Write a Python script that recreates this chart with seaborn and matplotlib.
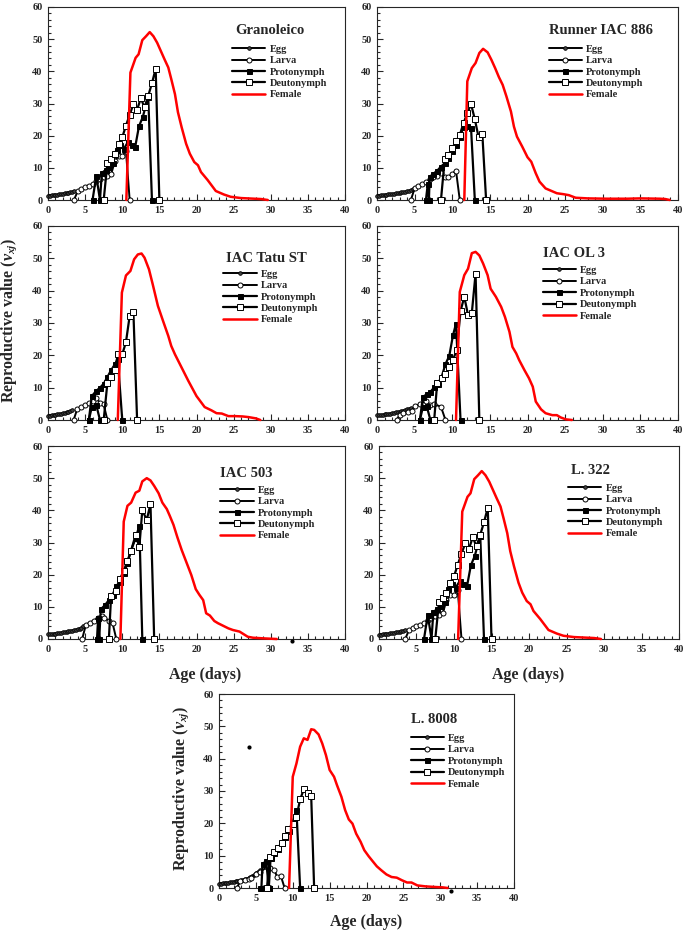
import numpy as np
import pandas as pd
import matplotlib
matplotlib.use('Agg')
import matplotlib.pyplot as plt
from matplotlib.ticker import MultipleLocator
import seaborn as sns

sns.set_style('ticks')
plt.rcParams['font.family'] = ['Liberation Serif', 'DejaVu Serif']
plt.rcParams['font.weight'] = 'bold'
plt.rcParams['mathtext.fontset'] = 'custom'
plt.rcParams['mathtext.rm'] = 'Liberation Serif:bold'
plt.rcParams['mathtext.it'] = 'Liberation Serif:italic:bold'

nan = np.nan

# --- Granoleico (L. 322 shows the same curves) ---
gran_egg_x = [0, 0.25, 0.5, 0.75, 1, 1.25, 1.5, 1.75, 2, 2.25, 2.5, 2.75, 3, 3.25, 3.5]
gran_egg_y = [1.30, 1.37, 1.44, 1.52, 1.60, 1.68, 1.77, 1.86, 1.96, 2.06, 2.17, 2.29, 2.42, 2.56, 2.75]
gran_larva_x = [3.5, 4.0, 4.5, 5.0, 5.5, 6.0, 6.5, 7.0, 7.5, 8.0, 8.5, 9.0, 9.5, 10.0, 10.5, 11.0]
gran_larva_y = [0, 2.8, 3.4, 3.9, 4.4, 5.0, 5.8, 6.5, 7.2, 7.4, 8.0, 12.0, 13.8, 13.7, 15.2, 0]
gran_proto_x = [6.0, 6.5, 7.0, 7.25, 7.75, 8.25, 8.75, 9.25, 9.75, 10.25, 10.75, 11.25, 11.75, 12.25, 12.75, 13.5, 14.0]
gran_proto_y = [0, 7.5, 0, 8.4, 9.3, 10.3, 11.5, 15.5, 17.0, 16.0, 18.0, 17.2, 16.6, 22.9, 25.7, 32.0, 0]
gran_deuto_x = [7.5, 8.0, 8.5, 9.0, 9.5, 10.0, 10.5, 11.0, 11.5, 12.0, 12.5, 13.0, 13.5, 14.0, 14.5, 15.0]
gran_deuto_y = [0, 11.5, 12.7, 14.2, 17.5, 19.5, 23.1, 26.5, 29.8, 28.1, 31.6, 28.8, 32.4, 36.3, 40.8, 0]
gran_female_x = [10.55, 11.1, 11.8, 12.2, 12.7, 13.2, 13.7, 14.2, 14.7, 15.2, 15.7, 16.2, 16.6, 17.1, 17.5,
                 18.0, 18.6, 19.1, 19.7, 20.2, 20.6, 21.5, 22.6, 23.7, 24.6, 26.0, 27.8, 28.7, 29.6]
gran_female_y = [0, 39.6, 44.2, 45.3, 49.7, 50.9, 52.2, 50.9, 48.9, 46.3, 43.7, 41.2, 37.6, 32.9, 27.3,
                 22.6, 17.5, 14.4, 11.8, 10.8, 8.7, 6.2, 2.8, 1.7, 1.0, 0.6, 0.4, 0.3, 0]

# --- Runner IAC 886 ---
run_egg_x = [0, 0.25, 0.5, 0.75, 1, 1.25, 1.5, 1.75, 2, 2.25, 2.5, 2.75, 3, 3.25, 3.5, 3.75, 4, 4.25, 4.5, 4.75]
run_egg_y = [1.30, 1.36, 1.42, 1.49, 1.56, 1.63, 1.71, 1.79, 1.87, 1.96, 2.05, 2.15, 2.25, 2.36, 2.47, 2.59,
             2.72, 2.86, 3.00, 3.30]
run_larva_x = [4.5, 5.0, 5.5, 6.0, 6.5, 7.0, 7.5, 8.0, 8.5, 9.0, 9.5, 10.0, 10.5, 11.0]
run_larva_y = [0, 3.6, 4.4, 5.0, 5.6, 6.4, 7.1, 7.6, 8.4, 7.1, 7.1, 8.2, 9.1, 0]
run_proto_x = [6.5, 6.75, 6.9, 7.0, 7.5, 8.0, 8.5, 9.0, 9.5, 10.0, 10.5, 11.0, 11.5, 12.0, 12.5, 13.0]
run_proto_y = [0, 5.0, 0, 7.2, 8.2, 9.1, 10.4, 11.4, 13.0, 15.1, 17.1, 19.7, 22.6, 23.0, 22.3, 0]
run_deuto_x = [8.5, 9.0, 9.5, 10.0, 10.5, 11.0, 11.5, 12.0, 12.5, 13.0, 13.5, 14.0, 14.5]
run_deuto_y = [0, 12.7, 14.1, 16.1, 18.2, 20.2, 23.9, 27.0, 29.8, 25.1, 19.5, 20.4, 0]
run_female_x = [11.6, 12.0, 12.6, 13.1, 13.6, 14.1, 14.7, 15.2, 15.7, 16.2, 16.7, 17.2, 17.8, 18.2, 18.6,
                19.3, 20.0, 20.5, 21.1, 21.6, 22.4, 23.1, 23.9, 24.8, 25.5, 26.4, 28.0, 30.6, 33.2, 35.0,
                37.6, 38.3, 38.9]
run_female_y = [0, 36.9, 41.0, 42.6, 45.7, 47.0, 45.9, 43.6, 41.0, 38.2, 35.8, 32.2, 27.5, 22.8, 19.7,
                16.6, 13.3, 11.9, 8.3, 5.7, 3.6, 2.9, 2.1, 1.8, 1.5, 0.7, 0.5, 0.4, 0.4, 0.5,
                0.4, 0.3, 0]

# --- IAC Tatu ST ---
tatu_egg_x = [0, 0.25, 0.5, 0.75, 1, 1.25, 1.5, 1.75, 2, 2.25, 2.5, 2.75, 3, 3.25]
tatu_egg_y = [1.30, 1.38, 1.47, 1.56, 1.65, 1.75, 1.86, 1.97, 2.09, 2.22, 2.36, 2.51, 2.70, 2.95]
tatu_larva_x = [3.45, 3.95, 4.5, 4.95, 5.5, 6.0, 6.5, 6.95, 7.5, 8.0]
tatu_larva_y = [0, 3.5, 4.1, 4.6, 5.2, 5.8, 6.9, 5.4, 4.8, 0]
tatu_proto_x = [5.5, 5.9, 6.5, 7.0, nan, 5.5, 5.9, 6.5, 7.0, 7.5, 8.0, 8.5, 9.0, 9.4, 10.0]
tatu_proto_y = [0, 4.0, 4.6, 0, nan, 0, 7.4, 9.0, 10.0, 11.2, 13.3, 15.4, 17.2, 18.8, 0]
tatu_deuto_x = [7.5, 8.0, 8.5, 9.0, 9.4, 10.0, 10.5, 11.0, 11.5, 12.0]
tatu_deuto_y = [0, 11.5, 13.3, 15.4, 20.3, 20.3, 24.1, 32.2, 33.5, 0]
tatu_female_x = [9.4, 9.95, 10.5, 11.1, 11.6, 12.1, 12.6, 13.0, 13.6, 14.1, 14.8, 15.5, 16.2, 16.6, 17.1,
                 18.0, 18.9, 20.0, 21.1, 22.0, 22.7, 23.4, 24.3, 25.2, 26.2, 27.0, 28.0, 28.6]
tatu_female_y = [0, 39.4, 44.7, 46.1, 49.7, 51.2, 51.5, 50.2, 46.6, 42.0, 35.3, 30.6, 26.0, 22.9, 20.3,
                 16.2, 12.1, 7.4, 4.0, 3.0, 2.1, 2.0, 1.2, 1.2, 1.1, 0.9, 0.5, 0]

# --- IAC OL 3 ---
ol3_egg_x = [0, 0.25, 0.5, 0.75, 1, 1.25, 1.5, 1.75, 2, 2.25, 2.5, 2.75, 3, 3.25, 3.5, 3.75, 4, 4.25, 4.5]
ol3_egg_y = [1.40, 1.47, 1.55, 1.63, 1.71, 1.80, 1.90, 2.00, 2.11, 2.22, 2.34, 2.47, 2.61, 2.76, 2.92,
             3.09, 3.27, 3.47, 3.75]
ol3_larva_x = [2.6, 3.0, 3.5, 4.1, 4.6, 5.1, 5.7, 6.5, 7.1, 7.6, 8.5, 9.1]
ol3_larva_y = [0, 1.5, 2.1, 2.5, 2.9, 4.3, 4.9, 5.9, 4.6, 4.9, 4.1, 0]
ol3_proto_x = [5.7, 6.1, 6.6, 7.1, nan, 5.7, 6.1, 6.6, 7.1, 7.6, 8.1, 8.6, 9.1, 9.6, 10.1, 10.5, 11.1]
ol3_proto_y = [0, 4.0, 4.3, 0, nan, 0, 7.2, 7.9, 8.7, 10.1, 11.0, 13.4, 17.3, 19.8, 26.2, 29.8, 0]
ol3_deuto_x = [7.6, 8.0, 8.6, 9.1, 9.6, 10.1, 10.6, 11.1, 11.6, 12.1, 12.6, 13.1, 13.6]
ol3_deuto_y = [0, 11.5, 12.9, 14.1, 16.3, 18.7, 21.6, 33.7, 38.1, 32.4, 33.1, 45.3, 0]
ol3_female_x = [10.5, 11.0, 11.6, 12.1, 12.6, 13.1, 13.6, 14.1, 14.7, 15.1, 15.8, 16.5, 17.0, 17.6, 18.0,
                18.5, 18.9, 19.6, 20.2, 20.7, 21.1, 21.8, 22.4, 23.3, 23.9, 24.4, 25.1, 25.9]
ol3_female_y = [0, 39.6, 44.8, 46.8, 51.6, 52.0, 50.9, 48.4, 44.8, 40.6, 38.1, 35.0, 31.9, 27.3, 22.6,
                20.6, 18.5, 15.4, 12.9, 10.3, 5.7, 3.3, 2.1, 1.5, 1.5, 0.8, 0.2, 0]

# --- IAC 503 ---
iac503_egg_x = [0, 0.25, 0.5, 0.75, 1, 1.25, 1.5, 1.75, 2, 2.25, 2.5, 2.75, 3, 3.25, 3.5, 3.75, 4, 4.25, 4.5, 4.75]
iac503_egg_y = [1.40, 1.47, 1.54, 1.62, 1.70, 1.78, 1.87, 1.96, 2.06, 2.16, 2.27, 2.38, 2.50, 2.63, 2.76,
                2.90, 3.05, 3.25, 3.55, 3.90]
iac503_larva_x = [4.6, 5.1, 5.6, 6.2, 6.7, 7.3, 7.6, 8.2, 8.7, 9.2]
iac503_larva_y = [0, 4.4, 5.1, 5.7, 6.6, 7.3, 6.6, 5.7, 4.9, 0]
iac503_proto_x = [6.6, 6.75, 6.9, 7.1, 7.7, 8.2, 8.7, 9.2, 9.7, 10.2, 10.7, 11.2, 11.8, 12.3, 12.7]
iac503_proto_y = [0, 6.4, 0, 9.2, 10.6, 12.1, 13.7, 16.5, 17.8, 20.4, 23.5, 27.7, 31.3, 35.2, 0]
iac503_deuto_x = [8.2, 8.5, 9.2, 9.7, 10.2, 10.7, 11.2, 11.8, 12.3, 12.7, 13.3, 13.8, 14.3]
iac503_deuto_y = [0, 13.5, 14.9, 18.7, 21.2, 24.3, 27.5, 32.4, 28.5, 40.1, 37.0, 42.0, 0]
iac503_female_x = [9.75, 10.2, 10.7, 11.2, 11.8, 12.3, 12.7, 13.3, 13.8, 14.3, 14.9, 15.4, 16.0, 16.4, 16.9,
                   17.4, 18.0, 18.6, 19.3, 19.9, 20.4, 20.9, 21.3, 21.8, 22.4, 22.9, 23.6, 24.3, 24.9, 25.8,
                   26.9, 27.6, 29.0, 30.8]
iac503_female_y = [0, 36.5, 41.4, 42.4, 45.5, 46.1, 49.0, 50.0, 49.3, 47.6, 45.3, 42.4, 40.4, 38.3, 35.5,
                   31.8, 27.7, 24.1, 19.9, 15.5, 13.7, 12.1, 8.0, 7.3, 5.6, 4.9, 4.1, 3.3, 2.8, 2.3,
                   0.7, 0.4, 0.2, 0]
iac503_stray_x = [32.9]
iac503_stray_y = [-0.5]

# --- L. 8008 ---
l8008_egg_x = [0, 0.25, 0.5, 0.75, 1, 1.25, 1.5, 1.75, 2, 2.25, 2.5, 2.75, 3, 3.25, 3.5, 3.75, 4, 4.25,
               4.5, 4.75, 5, 5.25, 5.5]
l8008_egg_y = [1.30, 1.36, 1.43, 1.50, 1.58, 1.66, 1.75, 1.84, 1.94, 2.04, 2.15, 2.27, 2.40, 2.55, 2.72,
               2.90, 3.10, 3.35, 3.65, 4.00, 4.50, 5.00, 5.50]
l8008_larva_x = [2.4, 2.9, 3.5, 4.0, 4.4, 5.0, 5.5, 6.5, 6.9, 7.5, 7.9, 8.4, 8.9]
l8008_larva_y = [0, 2.1, 2.6, 2.8, 3.2, 4.2, 4.8, 6.5, 6.2, 5.5, 3.4, 3.6, 0]
l8008_proto_x = [5.5, 5.75, 5.9, 6.4, 6.75, nan, 6.75, 7.0, 7.5, 8.0, 8.5, 9.0, 9.5, 10.0, 10.5, 11.0]
l8008_proto_y = [0, 0, 7.5, 8.3, 0, nan, 0, 9.4, 10.8, 12.2, 13.8, 15.8, 17.6, 20.5, 24.2, 0]
l8008_deuto_x = [6.5, 6.9, 7.5, 8.0, 8.5, 9.0, 9.4, 10.0, 10.5, 11.0, 11.5, 12.0, 12.5, 12.9]
l8008_deuto_y = [0, 9.6, 11.0, 12.4, 14.0, 16.0, 18.2, 19.9, 22.0, 27.4, 30.5, 29.5, 28.5, 0]
l8008_female_x = [9.5, 10.0, 10.5, 11.0, 11.5, 12.0, 12.5, 12.9, 13.5, 14.0, 14.5, 15.0, 15.6, 16.0, 16.6,
                  17.1, 17.6, 18.1, 18.6, 19.2, 19.7, 20.3, 20.9, 21.4, 22.0, 22.7, 23.4, 24.1, 24.8, 25.5,
                  26.1, 26.9, 28.0, 29.4, 30.3, 31.0]
l8008_female_y = [0, 34.4, 38.5, 43.7, 46.3, 45.8, 49.1, 48.9, 47.5, 44.7, 41.1, 36.5, 34.4, 31.8, 28.2,
                  24.1, 21.2, 19.9, 16.8, 14.3, 11.7, 9.8, 8.1, 6.7, 5.5, 4.2, 3.4, 3.2, 2.4, 1.7,
                  1.7, 0.8, 0.5, 0.3, 0.2, 0]
l8008_stray_x = [4.0, 31.4]
l8008_stray_y = [43.5, -1.0]

stages = ['Egg', 'Larva', 'Protonymph', 'Deutonymph', 'Female']

styles = {
    'Egg': dict(color='k', lw=1.4, marker='o', markersize=2.6, markerfacecolor='#444444',
                markeredgecolor='k', markeredgewidth=0.6),
    'Larva': dict(color='k', lw=1.4, marker='o', markersize=3.6, markerfacecolor='white',
                  markeredgecolor='k', markeredgewidth=0.7),
    'Protonymph': dict(color='k', lw=1.6, marker='s', markersize=3.6, markerfacecolor='k',
                       markeredgecolor='k', markeredgewidth=0.7),
    'Deutonymph': dict(color='k', lw=1.6, marker='s', markersize=3.9, markerfacecolor='white',
                       markeredgecolor='k', markeredgewidth=0.7),
    'Female': dict(color='red', lw=1.8),
}

W, H = 685, 933


def rect(left, right, top, bottom):
    return [left / W, 1 - bottom / H, (right - left) / W, (bottom - top) / H]


# panel: title, axes box (px), title position, legend anchor, data, stray points
panels = [
    ('Granoleico', rect(48, 345, 7, 200), (0.63, 0.88), (0.62, 0.805),
     [(gran_egg_x, gran_egg_y), (gran_larva_x, gran_larva_y), (gran_proto_x, gran_proto_y),
      (gran_deuto_x, gran_deuto_y), (gran_female_x, gran_female_y)], None),
    ('Runner IAC 886', rect(377, 678, 7, 200), (0.57, 0.88), (0.57, 0.805),
     [(run_egg_x, run_egg_y), (run_larva_x, run_larva_y), (run_proto_x, run_proto_y),
      (run_deuto_x, run_deuto_y), (run_female_x, run_female_y)], None),
    ('IAC Tatu ST', rect(48, 345, 226, 420), (0.60, 0.835), (0.59, 0.775),
     [(tatu_egg_x, tatu_egg_y), (tatu_larva_x, tatu_larva_y), (tatu_proto_x, tatu_proto_y),
      (tatu_deuto_x, tatu_deuto_y), (tatu_female_x, tatu_female_y)], None),
    ('IAC OL 3', rect(377, 678, 226, 420), (0.55, 0.86), (0.55, 0.795),
     [(ol3_egg_x, ol3_egg_y), (ol3_larva_x, ol3_larva_y), (ol3_proto_x, ol3_proto_y),
      (ol3_deuto_x, ol3_deuto_y), (ol3_female_x, ol3_female_y)], None),
    ('IAC 503', rect(48, 345, 446, 639), (0.58, 0.855), (0.58, 0.795),
     [(iac503_egg_x, iac503_egg_y), (iac503_larva_x, iac503_larva_y), (iac503_proto_x, iac503_proto_y),
      (iac503_deuto_x, iac503_deuto_y), (iac503_female_x, iac503_female_y)],
     (iac503_stray_x, iac503_stray_y)),
    ('L. 322', rect(379, 679, 446, 639), (0.64, 0.875), (0.63, 0.805),
     [(gran_egg_x, gran_egg_y), (gran_larva_x, gran_larva_y), (gran_proto_x, gran_proto_y),
      (gran_deuto_x, gran_deuto_y), (gran_female_x, gran_female_y)], None),
    ('L. 8008', rect(219, 514, 694, 888), (0.65, 0.87), (0.65, 0.795),
     [(l8008_egg_x, l8008_egg_y), (l8008_larva_x, l8008_larva_y), (l8008_proto_x, l8008_proto_y),
      (l8008_deuto_x, l8008_deuto_y), (l8008_female_x, l8008_female_y)],
     (l8008_stray_x, l8008_stray_y)),
]


def draw_stage(ax, xs, ys, stage, z):
    xs = np.array(xs, dtype=float)
    ys = np.array(ys, dtype=float)
    seg = np.cumsum(np.isnan(xs))
    df = pd.DataFrame({'age': xs, 'v': ys, 'seg': seg}).dropna()
    sns.lineplot(data=df, x='age', y='v', units='seg', estimator=None, sort=False,
                 ax=ax, legend=False, label=stage, clip_on=False, zorder=z, **styles[stage])


fig = plt.figure(figsize=(W / 100, H / 100), dpi=100)

for title, box, tpos, lpos, series, stray in panels:
    ax = fig.add_axes(box)
    for i, (stage, (xs, ys)) in enumerate(zip(stages, series)):
        draw_stage(ax, xs, ys, stage, 3 + i)
    if stray is not None:
        sns.scatterplot(x=stray[0], y=stray[1], ax=ax, color='k', s=9, linewidth=0,
                        clip_on=False, zorder=10, legend=False)

    ax.set_xlim(0, 40)
    ax.set_ylim(0, 60)
    ax.xaxis.set_major_locator(MultipleLocator(5))
    ax.xaxis.set_minor_locator(MultipleLocator(1))
    ax.yaxis.set_major_locator(MultipleLocator(10))
    ax.yaxis.set_minor_locator(MultipleLocator(2))
    ax.tick_params(which='both', direction='in', width=0.8, labelsize=7.5, pad=4)
    ax.tick_params(which='major', length=4)
    ax.tick_params(which='minor', length=2)
    for sp in ax.spines.values():
        sp.set_visible(True)
        sp.set_linewidth(0.8)
    ax.set_xlabel('')
    ax.set_ylabel('')

    ax.text(tpos[0], tpos[1], title, transform=ax.transAxes, fontsize=10.5,
            fontweight='bold', ha='left', va='center')

    handles, labels = ax.get_legend_handles_labels()
    uniq = {}
    for h, l in zip(handles, labels):
        if l in stages and l not in uniq:
            uniq[l] = h
    ax.legend([uniq[s] for s in stages], stages, loc='upper left', bbox_to_anchor=lpos,
              frameon=False, fontsize=7.5, handlelength=3.2, handletextpad=0.4,
              labelspacing=0.2, borderpad=0, borderaxespad=0, numpoints=1)

ylab = r'Reproductive value ($v_{xj}$)'
fig.text(9 / W, 1 - 320 / H, ylab, rotation=90, ha='center', va='center', fontsize=11.5)
fig.text(181 / W, 1 - 788 / H, ylab, rotation=90, ha='center', va='center', fontsize=11.5)
fig.text(205 / W, 1 - 675 / H, 'Age (days)', ha='center', va='center', fontsize=11.5)
fig.text(528 / W, 1 - 675 / H, 'Age (days)', ha='center', va='center', fontsize=11.5)
fig.text(366 / W, 1 - 922 / H, 'Age (days)', ha='center', va='center', fontsize=11.5)

fig.savefig('out.png', dpi=100)
